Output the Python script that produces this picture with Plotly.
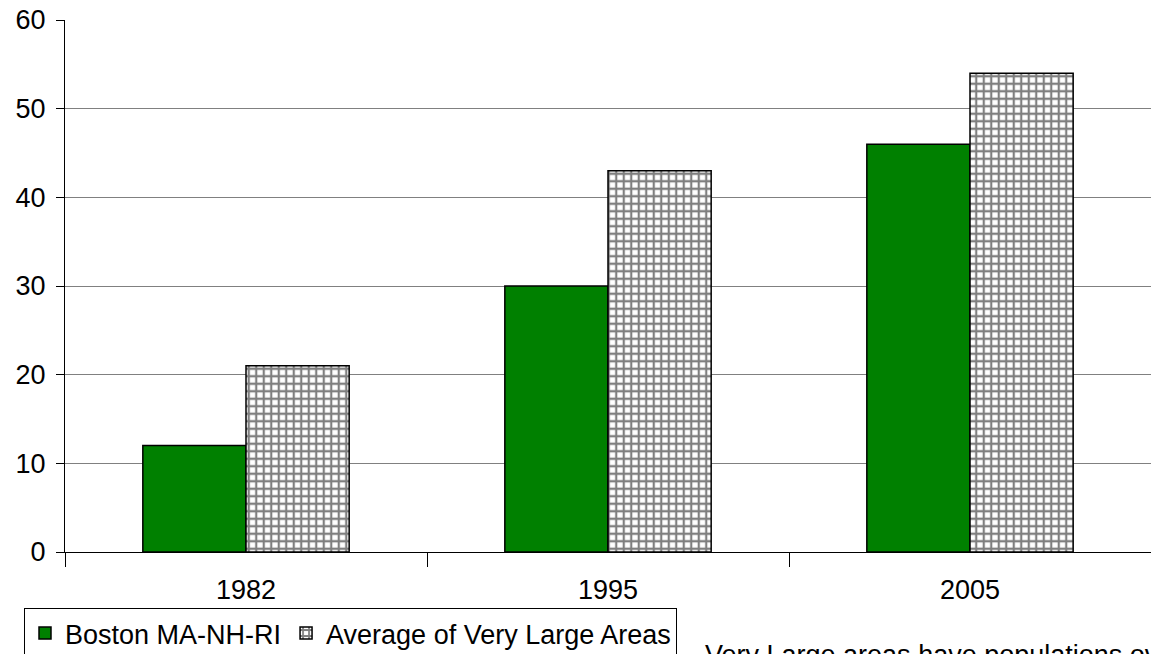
import plotly.graph_objects as go

years = ["1982", "1995", "2005"]
boston = [12, 30, 46]
very_large_avg = [21, 43, 54]
series_names = ["Boston MA-NH-RI", "Average of Very Large Areas"]
note = "Very Large areas have populations over 3 million."

FONT = dict(family="Liberation Sans, Arial, sans-serif", size=27, color="black")

fig = go.Figure()
fig.add_trace(go.Bar(
    x=years, y=boston, name=series_names[0],
    marker=dict(color="#008000", line=dict(color="black", width=1.5)),
))
fig.add_trace(go.Bar(
    x=years, y=very_large_avg, name=series_names[1],
    marker=dict(
        color="white",
        line=dict(color="black", width=1.5),
        pattern=dict(shape="+", fgcolor="black", bgcolor="white",
                     size=7.5, solidity=0.5, fillmode="overlay"),
    ),
))

fig.update_layout(
    width=1151, height=654,
    margin=dict(l=65, r=0, t=20, b=102, autoexpand=False),
    paper_bgcolor="white", plot_bgcolor="white",
    font=FONT,
    barmode="group", bargap=0.43, bargroupgap=0,
    showlegend=True,
    legend=dict(
        orientation="h", xref="container", yref="container",
        x=24 / 1151, xanchor="left", y=1 - 608 / 654, yanchor="top",
        bgcolor="white", bordercolor="black", borderwidth=1,
        font=FONT, itemwidth=30, tracegroupgap=0,
    ),
    xaxis=dict(
        showline=True, linecolor="black", linewidth=1,
        ticks="outside", tickson="boundaries", ticklen=14, tickcolor="black",
        showgrid=False, tickfont=FONT, ticklabelstandoff=14,
    ),
    yaxis=dict(
        range=[0, 60], dtick=10, showline=True, linecolor="black", linewidth=1,
        ticks="outside", ticklen=8, tickcolor="black",
        showgrid=True, gridcolor="#808080", gridwidth=1,
        zeroline=True, zerolinecolor="black", zerolinewidth=1,
        tickfont=FONT, ticklabelstandoff=5,
    ),
    annotations=[dict(
        text=note, xref="paper", yref="paper",
        x=(703 - 65) / 1086, xanchor="left",
        y=(552 - 638) / 532, yanchor="top",
        showarrow=False, font=FONT,
    )],
)

fig.write_html("out.html")
